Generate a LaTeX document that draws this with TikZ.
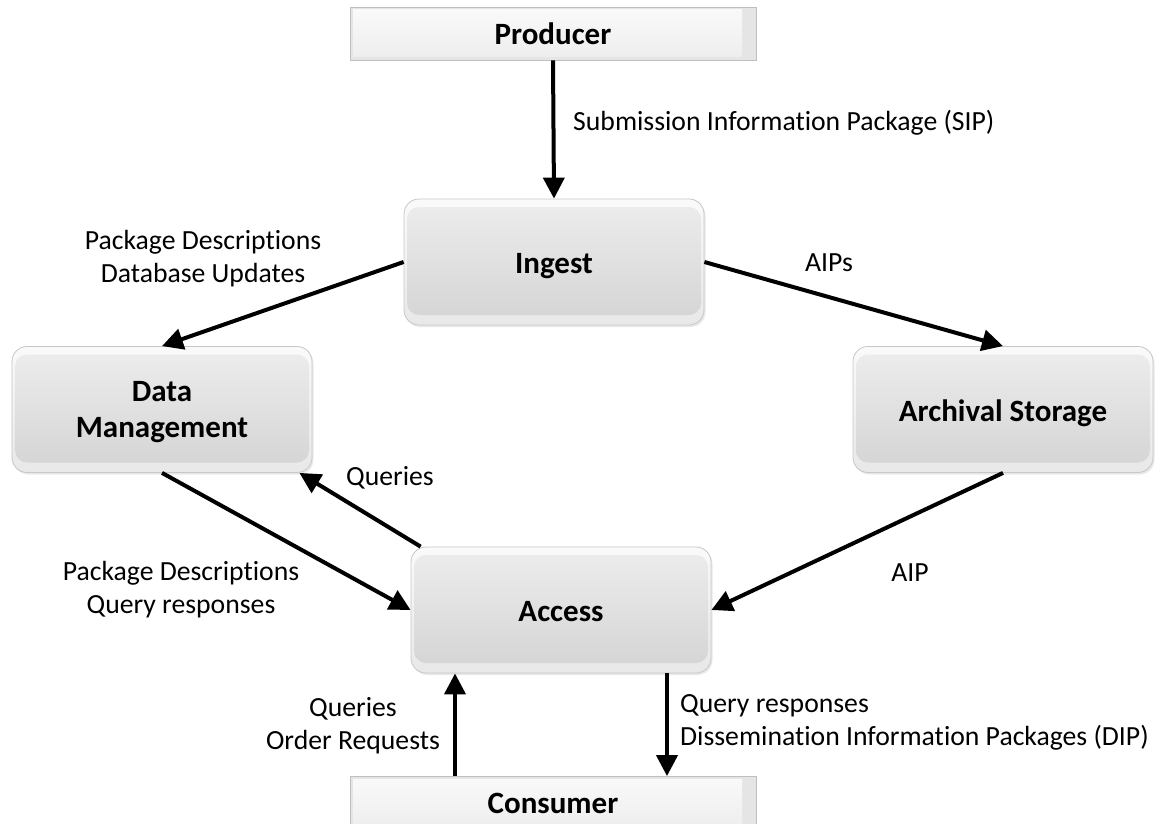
\documentclass[tikz,border=0pt]{standalone}
\usepackage{fontspec}
\setmainfont{Carlito}[Ligatures=CommonOff]
\usetikzlibrary{arrows.meta,shadows,calc}
\newcommand\bxfont{\fontsize{31bp}{36bp}\selectfont\bfseries}
\newcommand\lbfont{\fontsize{27.7bp}{33bp}\selectfont}
\begin{document}
\begin{tikzpicture}[x=1bp,y=-1bp,
  arr/.style={line width=4bp,-{Triangle[length=21bp,width=21bp]}},
  rbox/.style={rounded corners=15bp, draw=black!22, line width=0.8bp,
    top color=black!2, bottom color=black!9,
    minimum width=300bp, minimum height=126bp, inner sep=0pt,
    font=\bxfont, align=center,
    drop shadow={opacity=0.18, shadow xshift=1.5bp, shadow yshift=-2bp},
    path picture={\shade[top color=black!7, bottom color=black!17, rounded corners=12bp]
      ([shift={(3bp,-8bp)}]path picture bounding box.north west) rectangle
      ([shift={(-3bp,10bp)}]path picture bounding box.south east);}},
  oneline/.style={text height=23bp, text depth=0bp},
  pbox/.style={draw=black!25, line width=0.8bp, fill=black!10,
    minimum width=406bp, minimum height=53bp, inner sep=0pt, font=\bxfont,
    path picture={\shade[top color=black!2, bottom color=black!7]
      ([shift={(3bp,-3bp)}]path picture bounding box.north west) rectangle
      ([shift={(-14bp,4bp)}]path picture bounding box.south east);}},
  lbl/.style={font=\lbfont, inner sep=0pt, align=center}]
\useasboundingbox[fill=white] (0,0) rectangle (1157,824);

\node[pbox] (prod) at (553,33.5) {Producer};
\node[rbox, oneline] (ing) at (554,262) {Ingest};
\node[rbox, text depth=0bp] (dm) at (162,409.5) {Data\\Management};
\node[rbox, oneline] (arch) at (1003,409.5) {Archival Storage};
\node[rbox, oneline] (acc) at (561,610) {Access};
\node[pbox] (cons) at (553,803) {Consumer};

\draw[arr] (prod.south) -- (ing.north);
\draw[arr] (ing.west) -- (dm.north);
\draw[arr] (ing.east) -- (arch.north);
\draw[arr] (dm.south) -- (acc.west);
\draw[arr] ([xshift=10bp]acc.north west) -- ([xshift=-13bp]dm.south east);
\draw[arr] (arch.south) -- (acc.east);
\draw[arr] ($(acc.south |- cons.north)+(-106,0)$) -- ($(acc.south)+(-106,0)$);
\draw[arr] ($(acc.south)+(106,0)$) -- ($(acc.south |- cons.north)+(106,0)$);

\node[lbl, anchor=west] (lsip) at (573,123) {Submission Information Package (SIP)};
\node[lbl] (lpd) at (203,258.5) {Package Descriptions\\Database Updates};
\node[lbl] (laips) at (829,263) {AIPs};
\node[lbl] (lq) at (390,478) {Queries};
\node[lbl] (lpq) at (181,590) {Package Descriptions\\Query responses};
\node[lbl] (laip) at (910,573) {AIP};
\node[lbl] (lqo) at (353,726) {Queries\\Order Requests};
\node[lbl, anchor=west, align=left] (lqd) at (680,722) {Query responses\\Dissemination Information Packages (DIP)};
\end{tikzpicture}
\end{document}
